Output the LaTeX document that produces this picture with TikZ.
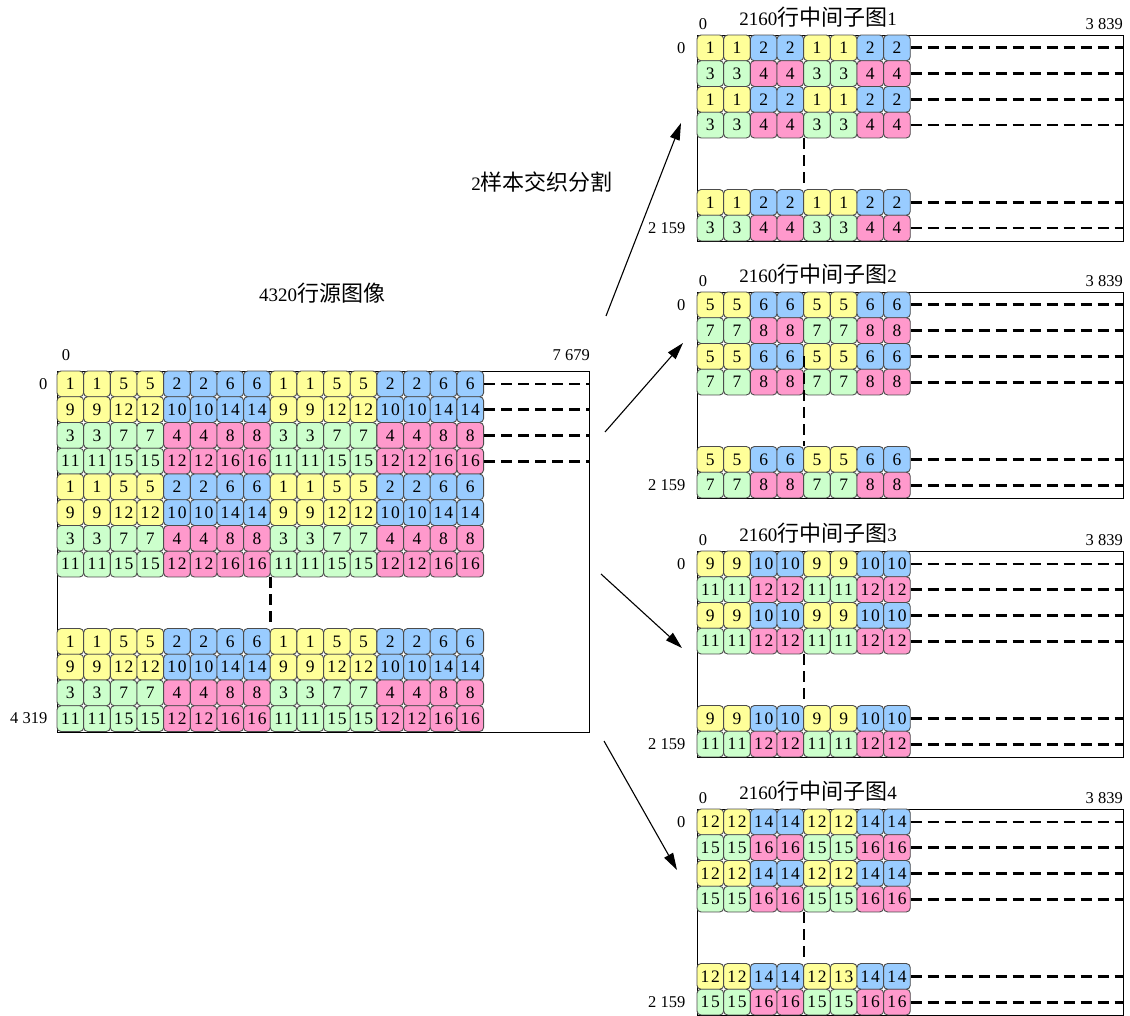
\documentclass[tikz,border=0pt]{standalone}
\usepackage{fontspec}
\setmainfont{Liberation Serif}
\newfontfamily\cjk{Noto Sans CJK SC}
\newfontfamily\cellfont{Liberation Serif}[LetterSpace=10]
\usetikzlibrary{arrows.meta, positioning}

\definecolor{cy}{HTML}{FFFF99}
\definecolor{cb}{HTML}{99CCFF}
\definecolor{cg}{HTML}{CCFFCC}
\definecolor{cp}{HTML}{FF99CC}

\newcommand{\zh}[1]{{\cjk\fontsize{22}{23}\selectfont #1}}

% one row of cells: name, left x, centre y, list of label/colour
\newcommand{\cellrow}[4]{%
  \foreach \lab/\clr [count=\i from 0] in #4
    \node[cellbox, fill=\clr] (#1-\i) at ({#2+13.33+26.66*\i}, #3) {\lab};%
}

% rows of the source image
\def\srcA{1/cy,1/cy,5/cy,5/cy,2/cb,2/cb,6/cb,6/cb,1/cy,1/cy,5/cy,5/cy,2/cb,2/cb,6/cb,6/cb}
\def\srcB{9/cy,9/cy,12/cy,12/cy,10/cb,10/cb,14/cb,14/cb,9/cy,9/cy,12/cy,12/cy,10/cb,10/cb,14/cb,14/cb}
\def\srcC{3/cg,3/cg,7/cg,7/cg,4/cp,4/cp,8/cp,8/cp,3/cg,3/cg,7/cg,7/cg,4/cp,4/cp,8/cp,8/cp}
\def\srcD{11/cg,11/cg,15/cg,15/cg,12/cp,12/cp,16/cp,16/cp,11/cg,11/cg,15/cg,15/cg,12/cp,12/cp,16/cp,16/cp}

% rows of the sub images
\def\subAa{1/cy,1/cy,2/cb,2/cb,1/cy,1/cy,2/cb,2/cb}
\def\subAb{3/cg,3/cg,4/cp,4/cp,3/cg,3/cg,4/cp,4/cp}
\def\subBa{5/cy,5/cy,6/cb,6/cb,5/cy,5/cy,6/cb,6/cb}
\def\subBb{7/cg,7/cg,8/cp,8/cp,7/cg,7/cg,8/cp,8/cp}
\def\subCa{9/cy,9/cy,10/cb,10/cb,9/cy,9/cy,10/cb,10/cb}
\def\subCb{11/cg,11/cg,12/cp,12/cp,11/cg,11/cg,12/cp,12/cp}
\def\subDa{12/cy,12/cy,14/cb,14/cb,12/cy,12/cy,14/cb,14/cb}
\def\subDc{12/cy,12/cy,14/cb,14/cb,12/cy,13/cy,14/cb,14/cb}
\def\subDb{15/cg,15/cg,16/cp,16/cp,15/cg,15/cg,16/cp,16/cp}

% one sub image: name, top y, row A, row B, last row A, number
\newcommand{\subimage}[6]{%
  \node[imgframe, minimum width=426pt, minimum height=206pt] (#1) at (697, #2) {};
  \cellrow{#1r1}{697}{#2+12.9}{#3}
  \cellrow{#1r2}{697}{#2+38.6}{#4}
  \cellrow{#1r3}{697}{#2+64.4}{#3}
  \cellrow{#1r4}{697}{#2+90.1}{#4}
  \cellrow{#1r5}{697}{#2+167.4}{#5}
  \cellrow{#1r6}{697}{#2+193.1}{#4}
  \foreach \r in {1,...,6}
    \draw[gapline] (#1r\r-7.east) -- (#1.east |- #1r\r-7);
  \node[heading] (#1t) at (818, #2-18) {2160\zh{行中间子图}#6};
  \node[axlab] (#1x0) at (703, #2-11) {0};
  \node[axlab, anchor=east] (#1x1) at (1123, #2-11) {3 839};
  \node[axlab, left=11pt of #1r1-0] (#1y0) {0};
  \node[axlab, left=11pt of #1r6-0] (#1y1) {2 159};
}

\begin{document}
\begin{tikzpicture}[
    x=1pt, y=-1pt,
    cellbox/.style={
        draw=black!70, line width=0.9pt, rounded corners=4pt,
        inner sep=0pt, minimum width=26.66pt, minimum height=25.75pt,
        font=\cellfont\fontsize{17.5}{18}\selectfont
    },
    imgframe/.style={draw, line width=0.9pt, inner sep=0pt, anchor=north west},
    gapline/.style={line width=2.8pt, dash pattern=on 11pt off 6pt},
    axlab/.style={font=\fontsize{16.5}{17}\selectfont, inner sep=0pt},
    heading/.style={font=\fontsize{19}{21}\selectfont, inner sep=0pt},
    arr/.style={-{Triangle[length=17pt, width=10pt]}, line width=1.1pt}
]
    \useasboundingbox (0,0) rectangle (1130,1016);

    % Left: 4320-row source image
    \node[imgframe, minimum width=532pt, minimum height=360.5pt] (src) at (57, 371) {};
    \cellrow{s1}{57}{383.9}{\srcA}
    \cellrow{s2}{57}{409.6}{\srcB}
    \cellrow{s3}{57}{435.4}{\srcC}
    \cellrow{s4}{57}{461.1}{\srcD}
    \cellrow{s5}{57}{486.9}{\srcA}
    \cellrow{s6}{57}{512.6}{\srcB}
    \cellrow{s7}{57}{538.4}{\srcC}
    \cellrow{s8}{57}{564.1}{\srcD}
    \cellrow{s9}{57}{641.4}{\srcA}
    \cellrow{s10}{57}{667.1}{\srcB}
    \cellrow{s11}{57}{692.9}{\srcC}
    \cellrow{s12}{57}{718.6}{\srcD}
    \foreach \r in {1,...,4}
        \draw[gapline] (s\r-15.east) -- (src.east |- s\r-15);
    \draw[gapline] (s8-7.south east) -- (s9-7.north east);

    \node[heading] (srct) at (322, 293) {4320\zh{行源图像}};
    \node[axlab] (srcx0) at (66, 355) {0};
    \node[axlab, anchor=east] (srcx1) at (590, 355) {7 679};
    \node[axlab, left=9pt of s1-0] (srcy0) {0};
    \node[axlab, left=9pt of s12-0] (srcy1) {4 319};

    % Right: four 2160-row sub images
    \subimage{p1}{35}{\subAa}{\subAb}{\subAa}{1}
    \subimage{p2}{292}{\subBa}{\subBb}{\subBa}{2}
    \subimage{p3}{551}{\subCa}{\subCb}{\subCa}{3}
    \subimage{p4}{809}{\subDa}{\subDb}{\subDc}{4}
    \draw[gapline] (p1r4-3.south east) -- (p1r5-3.north east);
    \draw[gapline] (p2r3-3.east) -- (p2r5-3.north east);
    \draw[gapline] (p3r4-3.south east) -- (p3r5-3.north east);
    \draw[gapline] (p4r4-3.south east) -- (p4r5-3.north east);

    % Split arrows
    \node[heading] (splitlab) at (542, 182) {2\zh{样本交织分割}};
    \coordinate (a1s) at (606, 316);
    \coordinate (a1e) at (681, 123);
    \coordinate (a2s) at (605, 432);
    \coordinate (a2e) at (683, 343);
    \coordinate (a3s) at (601, 574);
    \coordinate (a3e) at (682, 648);
    \coordinate (a4s) at (604, 741);
    \coordinate (a4e) at (677, 870);
    \draw[arr] (a1s) -- (a1e);
    \draw[arr] (a2s) -- (a2e);
    \draw[arr] (a3s) -- (a3e);
    \draw[arr] (a4s) -- (a4e);
\end{tikzpicture}
\end{document}
